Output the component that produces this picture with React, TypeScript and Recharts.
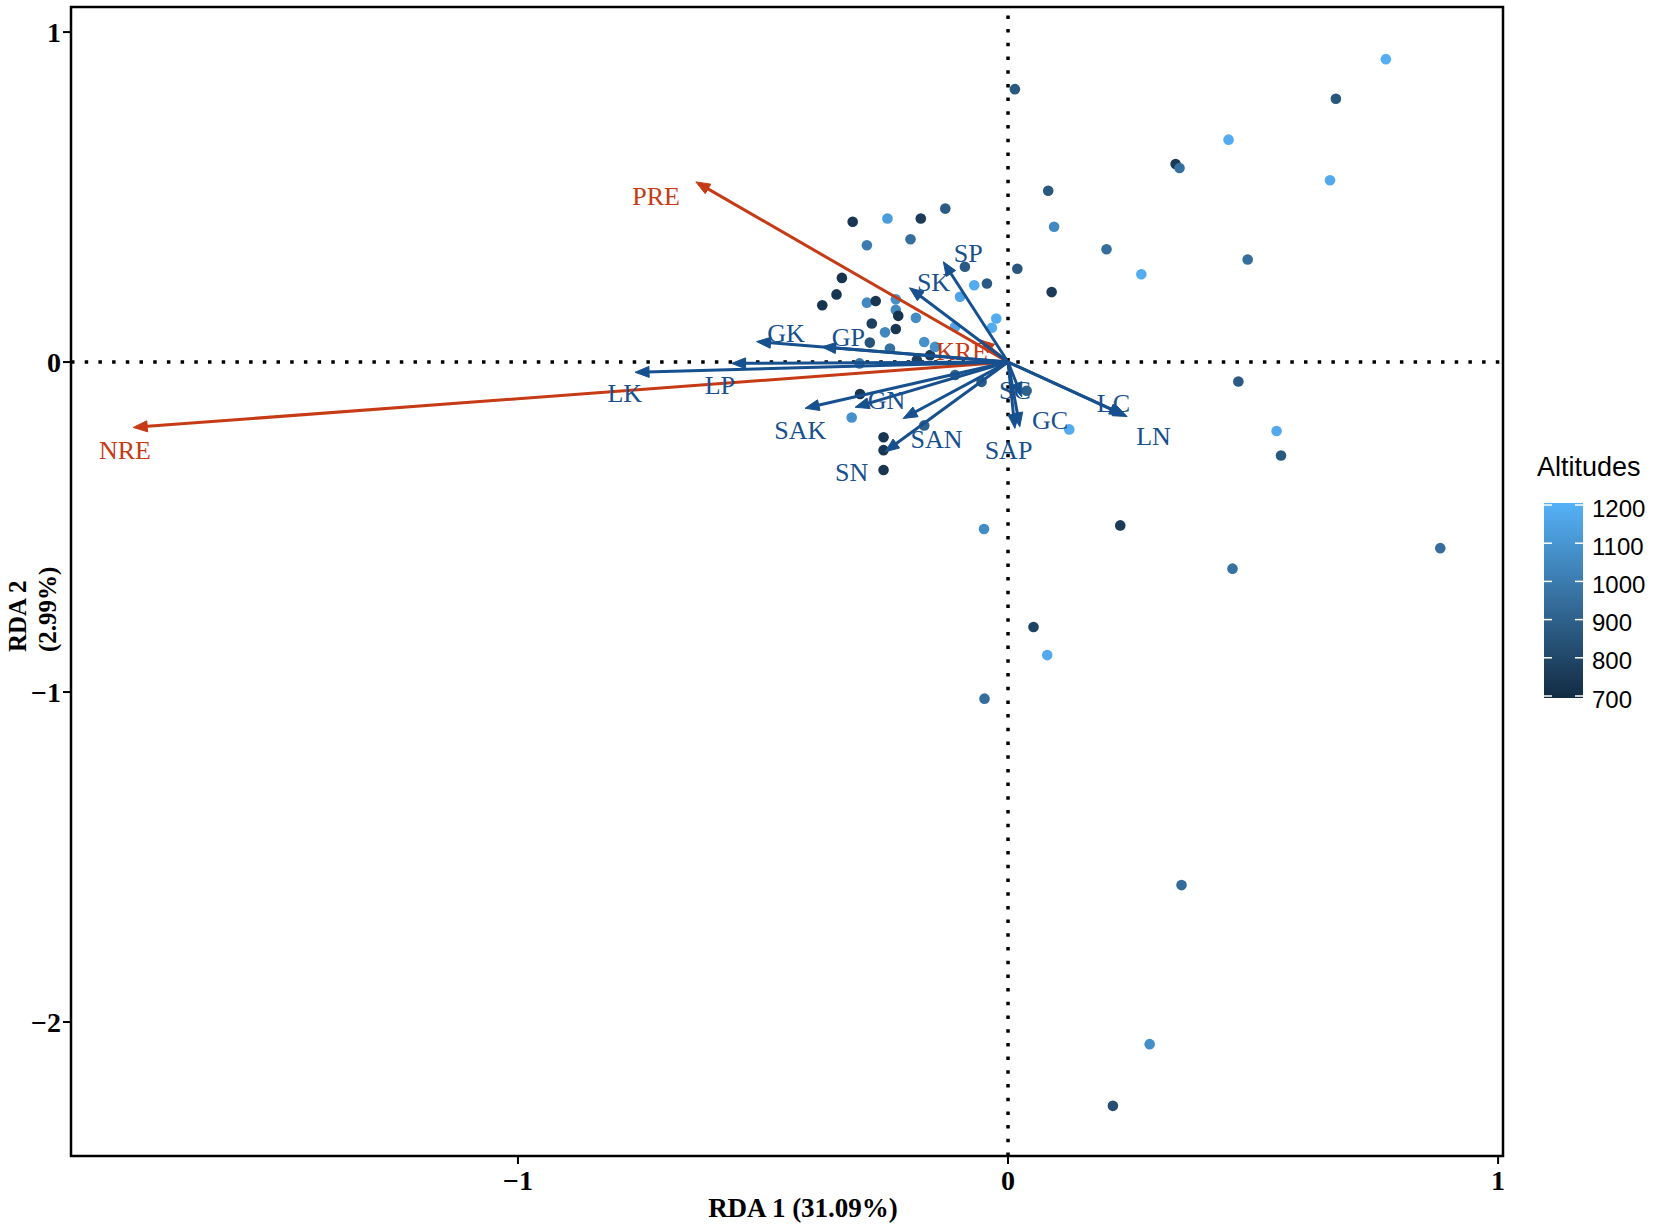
import React from "react";
import {
  ScatterChart,
  Scatter,
  XAxis,
  YAxis,
  ReferenceLine,
  ReferenceArea,
  Legend,
} from "recharts";

const X_DOMAIN: [number, number] = [-1.912, 1.01];
const Y_DOMAIN: [number, number] = [-2.406, 1.076];
const X_TICKS = [-1, 0, 1];
const Y_TICKS = [-2, -1, 0, 1];

// site scores (RDA1, RDA2) and altitude
const siteX = [
  -0.317, -0.246, -0.178, -0.128, -0.288, -0.199, -0.339, -0.35, -0.379, -0.288,
  -0.27, -0.229, -0.229, -0.224, -0.188, -0.278, -0.229, -0.251, -0.282, -0.241,
  -0.171, -0.159, -0.186, -0.303, -0.149, -0.088, -0.043, -0.069, -0.098, -0.024,
  -0.033, -0.108, -0.302, -0.319, -0.254, -0.254, -0.254, -0.171, -0.108, -0.054,
  0.038, 0.014, 0.771, 0.669, 0.45, 0.342, 0.35, 0.657, 0.082, 0.094,
  0.201, 0.489, 0.272, 0.019, 0.089, 0.47, 0.548, 0.557, 0.229, 0.882,
  0.458, -0.049, 0.052, 0.08, -0.048, 0.354, 0.289, 0.214, 0.125,
];
const siteY = [
  0.425, 0.435, 0.435, 0.465, 0.354, 0.372, 0.255, 0.205, 0.172, 0.18,
  0.185, 0.19, 0.158, 0.14, 0.134, 0.117, 0.1, 0.09, 0.059, 0.041,
  0.061, 0.021, 0.006, -0.004, 0.046, 0.289, 0.238, 0.233, 0.198, 0.132,
  0.104, 0.107, -0.097, -0.168, -0.228, -0.267, -0.327, -0.192, -0.039, -0.06,
  -0.087, 0.827, 0.918, 0.798, 0.674, 0.6, 0.588, 0.551, 0.519, 0.41,
  0.342, 0.311, 0.266, 0.283, 0.212, -0.059, -0.209, -0.283, -0.495, -0.564,
  -0.626, -0.506, -0.803, -0.888, -1.02, -1.585, -2.067, -2.254, -0.204,
];
const siteAlt = [
  740, 1120, 760, 880, 1000, 950, 730, 740, 730, 1050,
  740, 1080, 1050, 730, 1060, 780, 740, 1040, 850, 960,
  1080, 760, 780, 980, 1080, 880, 880, 1180, 1150, 1180,
  1180, 1150, 740, 1080, 740, 740, 740, 900, 900, 880,
  900, 870, 1190, 860, 1180, 760, 960, 1170, 870, 1050,
  950, 950, 1180, 860, 760, 880, 1170, 870, 760, 950,
  960, 1060, 790, 1170, 950, 940, 1070, 830, 1180,
];

// environmental vectors
const envNames = ["PRE", "NRE", "KRE"];
const envX = [-0.637, -1.785, -0.057];
const envY = [0.546, -0.198, 0.067];
const envLabelX = [-0.718, -1.802, -0.094];
const envLabelY = [0.502, -0.267, 0.031];

// trait vectors
const traitNames = ["SP", "SK", "GK", "GP", "LK", "LP", "SAK", "GN", "SAN", "SN", "SAP", "GC", "SC", "LC", "LN"];
const traitX = [-0.132, -0.201, -0.513, -0.38, -0.761, -0.564, -0.414, -0.312, -0.214, -0.251, 0.014, 0.024, 0.028, 0.236, 0.243];
const traitY = [0.304, 0.225, 0.062, 0.046, -0.031, -0.004, -0.14, -0.137, -0.171, -0.272, -0.201, -0.196, -0.105, -0.16, -0.165];
const traitLabelX = [-0.081, -0.152, -0.453, -0.326, -0.782, -0.588, -0.424, -0.248, -0.146, -0.319, 0.001, 0.086, 0.014, 0.215, 0.297];
const traitLabelY = [0.329, 0.24, 0.087, 0.075, -0.094, -0.07, -0.206, -0.115, -0.236, -0.335, -0.269, -0.176, -0.085, -0.125, -0.226];

const ALT_BREAKS = [700, 800, 900, 1000, 1100, 1200];
const ALT_MIN = 700;
const ALT_MAX = 1200;

const RED = "#C63B16";
const BLUE = "#17508E";
const SERIF = "'Liberation Serif', 'Times New Roman', serif";
const SANS = "'Liberation Sans', Arial, sans-serif";

function altColor(a: number) {
  const t = Math.min(1, Math.max(0, (a - ALT_MIN) / (ALT_MAX - ALT_MIN)));
  const lo = [0x13, 0x2b, 0x43];
  const hi = [0x56, 0xb1, 0xf7];
  const c = lo.map((v, i) => Math.round(v + (hi[i] - v) * t));
  return `rgb(${c[0]},${c[1]},${c[2]})`;
}

const sites = siteX.map((x, i) => ({ x, y: siteY[i], alt: siteAlt[i] }));

function ArrowLine(props: any) {
  const pts = props.points;
  if (!pts || pts.length < 2) return <g />;
  const a = pts[0];
  const b = pts[1];
  const dx = b.x - a.x;
  const dy = b.y - a.y;
  const len = Math.hypot(dx, dy) || 1;
  const ux = dx / len;
  const uy = dy / len;
  const head = 14;
  const half = 5.5;
  const bx = b.x - ux * head;
  const by = b.y - uy * head;
  return (
    <g>
      <line x1={a.x} y1={a.y} x2={bx + ux * 3} y2={by + uy * 3} stroke={props.color} strokeWidth={3} />
      <polygon
        points={`${b.x},${b.y} ${bx - uy * half},${by + ux * half} ${bx + uy * half},${by - ux * half}`}
        fill={props.color}
        stroke={props.color}
        strokeWidth={1}
      />
    </g>
  );
}

function renderArrows(names: string[], xs: number[], ys: number[], color: string) {
  return names.map((n, i) => (
    <Scatter
      key={"arrow-" + n}
      data={[
        { x: 0, y: 0 },
        { x: xs[i], y: ys[i] },
      ]}
      fill={color}
      line={(p: any) => <ArrowLine points={p.points} color={color} />}
      lineType="joint"
      shape={() => <g />}
      isAnimationActive={false}
    />
  ));
}

function renderLabels(id: string, names: string[], xs: number[], ys: number[], color: string) {
  const data = names.map((n, i) => ({ x: xs[i], y: ys[i], name: n }));
  return (
    <Scatter
      key={"labels-" + id}
      data={data}
      isAnimationActive={false}
      shape={(p: any) => (
        <text
          x={p.cx}
          y={p.cy}
          textAnchor="middle"
          dominantBaseline="central"
          fontFamily={SERIF}
          fontSize={26}
          fill={color}
        >
          {p.payload.name}
        </text>
      )}
    />
  );
}

function ColorBar() {
  const barX = 14;
  const barW = 39;
  const barTop = 58;
  const barH = 195;
  const yOf = (v: number) => barTop + 2 + (barH - 4) - ((v - ALT_MIN) / (ALT_MAX - ALT_MIN)) * (barH - 4);
  return (
    <svg width={124} height={280}>
      <defs>
        <linearGradient id="altGrad" x1="0" y1="1" x2="0" y2="0">
          {[0, 0.25, 0.5, 0.75, 1].map((t) => (
            <stop key={t} offset={t} stopColor={altColor(ALT_MIN + t * (ALT_MAX - ALT_MIN))} />
          ))}
        </linearGradient>
      </defs>
      <text x={7} y={22} dominantBaseline="central" fontFamily={SANS} fontSize={27} fill="#000">
        Altitudes
      </text>
      <rect x={barX} y={barTop} width={barW} height={barH} fill="url(#altGrad)" />
      {ALT_BREAKS.map((b) => (
        <g key={b}>
          <line x1={barX} x2={barX + 8} y1={yOf(b)} y2={yOf(b)} stroke="#fff" strokeWidth={1.5} />
          <line x1={barX + barW - 8} x2={barX + barW} y1={yOf(b)} y2={yOf(b)} stroke="#fff" strokeWidth={1.5} />
          <text x={62} y={yOf(b) + 3} dominantBaseline="central" fontFamily={SANS} fontSize={24} fill="#000">
            {b}
          </text>
        </g>
      ))}
    </svg>
  );
}

const fmt = (v: number) => (v < 0 ? "\u2212" + Math.abs(v) : String(v));

export default function App() {
  return (
    <div style={{ position: "absolute", left: 0, top: 0, width: 1654, height: 1227, background: "#fff" }}>
      <ScatterChart width={1654} height={1227} margin={{ top: 7, right: 151, bottom: 0, left: 0 }}>
        <XAxis
          type="number"
          dataKey="x"
          domain={X_DOMAIN}
          ticks={X_TICKS}
          allowDataOverflow
          height={71}
          axisLine={false}
          tickLine={{ stroke: "#000", strokeWidth: 2 }}
          tickSize={8}
          tickMargin={6}
          tickFormatter={fmt}
          tick={{ fill: "#000", fontFamily: SERIF, fontWeight: "bold", fontSize: 28 }}
          label={(p: any) => {
            const vb = p.viewBox || { x: 71, y: 1156, width: 1432, height: 71 };
            return (
              <text
                x={803}
                y={vb.y + vb.height - 19}
                textAnchor="middle"
                dominantBaseline="central"
                fontFamily={SERIF}
                fontWeight="bold"
                fontSize={27}
                fill="#000"
              >
                RDA 1 (31.09%)
              </text>
            );
          }}
        />
        <YAxis
          type="number"
          dataKey="y"
          domain={Y_DOMAIN}
          ticks={Y_TICKS}
          allowDataOverflow
          width={71}
          axisLine={false}
          tickLine={{ stroke: "#000", strokeWidth: 2 }}
          tickSize={8}
          tickMargin={2}
          tickFormatter={fmt}
          tick={{ fill: "#000", fontFamily: SERIF, fontWeight: "bold", fontSize: 28 }}
          label={() => (
            <g transform="translate(32, 652) rotate(-90)">
              <text x={0} y={-15} textAnchor="start" dominantBaseline="central" fontFamily={SERIF} fontWeight="bold" fontSize={25} fill="#000">
                RDA 2
              </text>
              <text x={0} y={15} textAnchor="start" dominantBaseline="central" fontFamily={SERIF} fontWeight="bold" fontSize={25} fill="#000">
                (2.99%)
              </text>
            </g>
          )}
        />
        <ReferenceLine x={0} stroke="#000" strokeWidth={3.5} strokeDasharray="3.5 10.2" />
        <ReferenceLine y={0} stroke="#000" strokeWidth={3.5} strokeDasharray="3.5 10.2" />
        <Scatter
          data={sites}
          isAnimationActive={false}
          shape={(p: any) => <circle cx={p.cx} cy={p.cy} r={5.3} fill={altColor(p.payload.alt)} />}
        />
        {renderArrows(envNames, envX, envY, RED)}
        {renderLabels("env", envNames, envLabelX, envLabelY, RED)}
        {renderArrows(traitNames, traitX, traitY, BLUE)}
        {renderLabels("trait", traitNames, traitLabelX, traitLabelY, BLUE)}
        <ReferenceArea
          x1={X_DOMAIN[0]}
          x2={X_DOMAIN[1]}
          y1={Y_DOMAIN[0]}
          y2={Y_DOMAIN[1]}
          fill="none"
          fillOpacity={0}
          stroke="#000"
          strokeWidth={2.5}
          ifOverflow="visible"
        />
        <Legend
          layout="vertical"
          align="center"
          verticalAlign="middle"
          content={() => <ColorBar />}
          wrapperStyle={{ left: 1530, top: 445, width: 124, height: 280 }}
        />
      </ScatterChart>
    </div>
  );
}
